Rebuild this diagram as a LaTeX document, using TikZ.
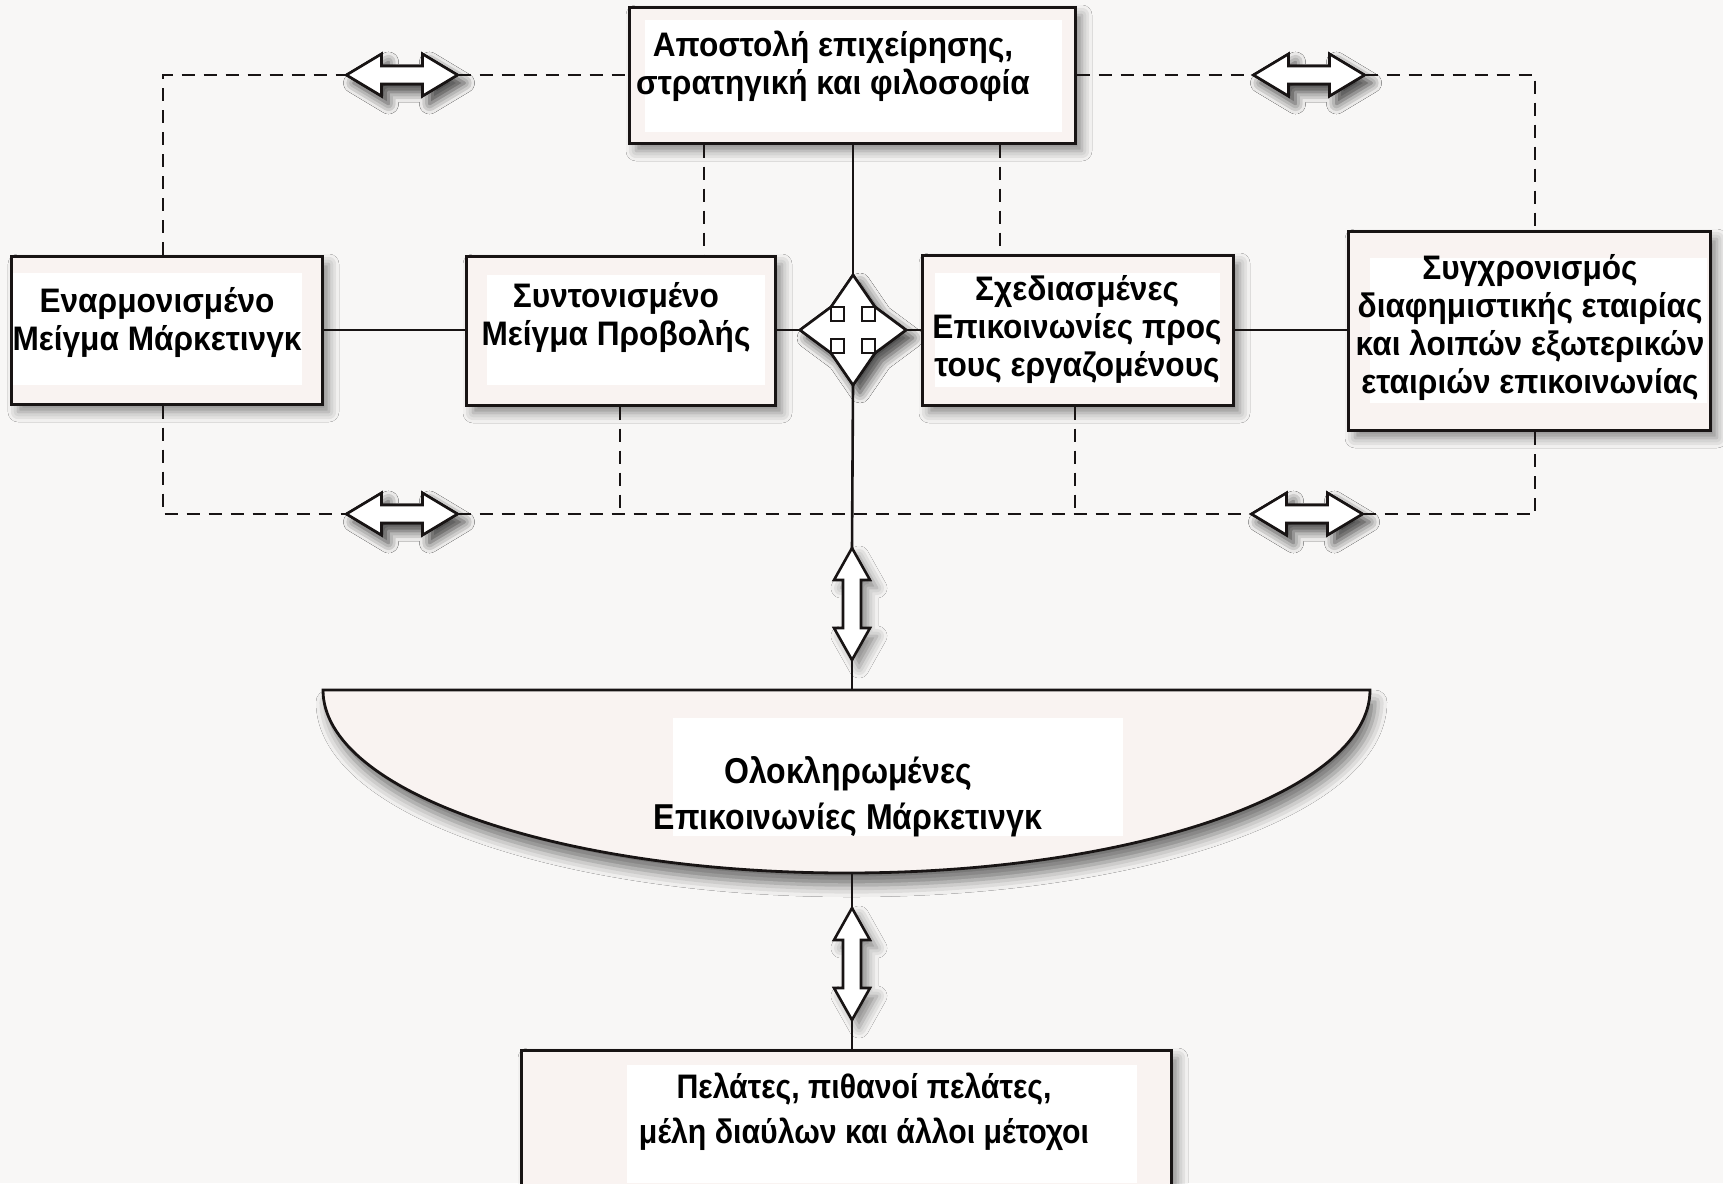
\documentclass[tikz,border=0pt]{standalone}
\usepackage{fontspec}
\setmainfont{Liberation Sans}
\newfontfamily\lblfont[FakeStretch=0.93]{Liberation Sans}
\newfontfamily\narrowlbl[FakeStretch=0.89]{Liberation Sans}
\usetikzlibrary{shadows.blur}
\definecolor{pagebg}{RGB}{248,247,246}
\definecolor{boxfill}{RGB}{249,243,241}
\definecolor{ink}{RGB}{24,20,20}

\tikzset{
  softshadow/.style={blur shadow={shadow xshift=7pt, shadow yshift=-8pt,
      shadow blur radius=10pt, shadow opacity=45}},
  box/.style={draw=ink, line width=3pt, fill=boxfill, inner sep=0pt, softshadow},
  pad/.style={fill=white, inner sep=0pt},
  label/.style={inner sep=0pt, align=center,
      font=\lblfont\fontsize{34}{38}\selectfont\bfseries},
  link/.style={draw=ink, line width=2.6pt},
  dashlink/.style={draw=ink, line width=2.6pt, dash pattern=on 13pt off 9pt},
  arrowline/.style={draw=ink, line width=2.6pt, fill=white, line join=miter, softshadow},
  % horizontal double arrow
  hdbl/.pic={
    \draw[arrowline] (-55.5,0) -- (-20.5,-21) -- (-20.5,-9) -- (20.5,-9) -- (20.5,-21)
      -- (55.5,0) -- (20.5,21) -- (20.5,9) -- (-20.5,9) -- (-20.5,21) -- cycle;
    \coordinate (-w) at (-55.5,0);
    \coordinate (-e) at (55.5,0);
  },
  % vertical double arrow, half length as argument
  vdbl/.pic={
    \draw[arrowline] (0,-#1) -- (-18,-#1+32) -- (-9,-#1+32) -- (-9,#1-32) -- (-18,#1-32)
      -- (0,#1) -- (18,#1-32) -- (9,#1-32) -- (9,-#1+32) -- (18,-#1+32) -- cycle;
    \coordinate (-n) at (0,-#1);
    \coordinate (-s) at (0,#1);
  },
  % four-way arrow hub
  quadarrow/.pic={
    \draw[arrowline] (0,-55) -- (-22,-23) -- (-53,0) -- (-22,23) -- (0,55)
      -- (22,23) -- (53,0) -- (22,-23) -- cycle;
    \draw[draw=ink, line width=2.4pt, fill=white]
      (-22,-23) rectangle (-9,-9)  (9,-23) rectangle (22,-9)
      (-22,23) rectangle (-9,9)    (9,23) rectangle (22,9);
    \coordinate (-n) at (0,-55);
    \coordinate (-s) at (0,55);
    \coordinate (-w) at (-53,0);
    \coordinate (-e) at (53,0);
  }
}

\begin{document}
\begin{tikzpicture}[x=1pt,y=-1pt]
\fill[pagebg] (0,0) rectangle (1723,1183);
\useasboundingbox (0,0) rectangle (1723,1183);

% boxes
\node[box, minimum width=446pt, minimum height=136pt] (mission)   at (852,75) {};
\node[box, minimum width=311pt, minimum height=148pt] (harmony)   at (166.5,330) {};
\node[box, minimum width=309pt, minimum height=149pt] (promo)     at (620.5,330.5) {};
\node[box, minimum width=311pt, minimum height=150pt] (staff)     at (1077.5,330) {};
\node[box, minimum width=362pt, minimum height=199pt] (agency)    at (1529,330.5) {};
\node[box, minimum width=650pt, minimum height=180pt] (customers) at (846,1140) {};

% integrated communications bowl
\draw[draw=ink, line width=2.8pt, fill=boxfill,
      blur shadow={shadow xshift=5pt, shadow yshift=-12pt, shadow blur radius=12pt, shadow opacity=55}]
  (323,690) -- (1370,690) arc[start angle=0, end angle=180, x radius=523.5, y radius=183] -- cycle;
\coordinate (bowltop) at (852,690);
\coordinate (bowlbot) at (852,873);

% white text pads
\node[pad, minimum width=417pt, minimum height=112pt] (missionpad) at (853.5,76) {};
\node[pad, minimum width=289pt, minimum height=112pt] (harmonypad) at (157.5,329) {};
\node[pad, minimum width=278pt, minimum height=110pt] (promopad)   at (626,330) {};
\node[pad, minimum width=285pt, minimum height=114pt] (staffpad)   at (1077.5,330) {};
\node[pad, minimum width=337pt, minimum height=145pt] (agencypad)  at (1538.5,330.5) {};
\node[pad, minimum width=450pt, minimum height=118pt] (imcpad)     at (898,777) {};
\node[pad, minimum width=510pt, minimum height=118pt] (custpad)    at (882,1124) {};

% solid links
\pic (hub) at (853,330) {quadarrow};
\pic (vlink) at (852,604) {vdbl=56};
\pic (vlink2) at (852,964) {vdbl=56};
\draw[link] (harmony.east) -- (promo.west |- harmony.east);
\draw[link] (promo.east |- hub-w) -- (hub-w);
\draw[link] (hub-e) -- (staff.west |- hub-e);
\draw[link] (staff.east) -- (agency.west |- staff.east);
\draw[link] (mission.south -| hub-n) -- (hub-n);
\draw[link] (hub-s) -- (vlink-n);
\draw[link] (vlink-s) -- (bowltop);
\draw[link] (bowlbot) -- (vlink2-n);
\draw[link] (vlink2-s) -- (vlink2-s |- customers.north);

% dashed coordination loops
\coordinate (colL) at (163,0);
\coordinate (colR) at (1535,0);
\coordinate (tapA) at (704,0);
\coordinate (tapB) at (1000,0);
\coordinate (tapC) at (620,0);
\coordinate (tapD) at (1075,0);
\coordinate (dblTL) at (402,75);
\coordinate (dblTR) at (1309,75);
\coordinate (dblBL) at (402,514);
\coordinate (dblBR) at (1307,514);
\pic (dblTL) at (dblTL) {hdbl};
\pic (dblTR) at (dblTR) {hdbl};
\pic (dblBL) at (dblBL) {hdbl};
\pic (dblBR) at (dblBR) {hdbl};
\draw[dashlink] (harmony.north -| colL) |- (dblTL-w);
\draw[dashlink] (dblTL-e) -- (mission.west |- dblTL-e);
\draw[dashlink] (mission.east |- dblTR-w) -- (dblTR-w);
\draw[dashlink] (dblTR-e) -| (agency.north -| colR);
\draw[dashlink] (mission.south -| tapA) -- (promo.north -| tapA);
\draw[dashlink] (mission.south -| tapB) -- (staff.north -| tapB);
\draw[dashlink] (harmony.south -| colL) |- (dblBL-w);
\draw[dashlink] (dblBL-e) -- (dblBR-w);
\draw[dashlink] (dblBR-e) -| (agency.south -| colR);
\draw[dashlink] (promo.south -| tapC) -- (dblBL-e -| tapC);
\draw[dashlink] (staff.south -| tapD) -- (dblBR-w -| tapD);
% arrows sit on top of the lines they interrupt
\pic at (dblTL) {hdbl};
\pic at (dblTR) {hdbl};
\pic at (dblBL) {hdbl};
\pic at (dblBR) {hdbl};
\pic at (853,330) {quadarrow};

% labels
\node[label] (missiontxt) at (833,66) {Αποστολή επιχείρησης,\\στρατηγική και φιλοσοφία};
\node[label] (harmonytxt) at (157,323) {Εναρμονισμένο\\Μείγμα Μάρκετινγκ};
\node[label] (promotxt)   at (616,318) {Συντονισμένο\\Μείγμα Προβολής};
\node[label] (stafftxt)   at (1077,330) {Σχεδιασμένες\\Επικοινωνίες προς\\τους εργαζομένους};
\node[label] (agencytxt)  at (1530,328) {Συγχρονισμός\\διαφημιστικής εταιρίας\\και λοιπών εξωτερικών\\εταιριών επικοινωνίας};
\node[label, font=\narrowlbl\fontsize{36}{46}\selectfont\bfseries] (imctxt) at (848,797)
  {Ολοκληρωμένες\\Επικοινωνίες Μάρκετινγκ};
\node[label, font=\narrowlbl\fontsize{34}{45}\selectfont\bfseries] (custtxt) at (864,1112)
  {Πελάτες, πιθανοί πελάτες,\\μέλη διαύλων και άλλοι μέτοχοι};
\end{tikzpicture}
\end{document}
